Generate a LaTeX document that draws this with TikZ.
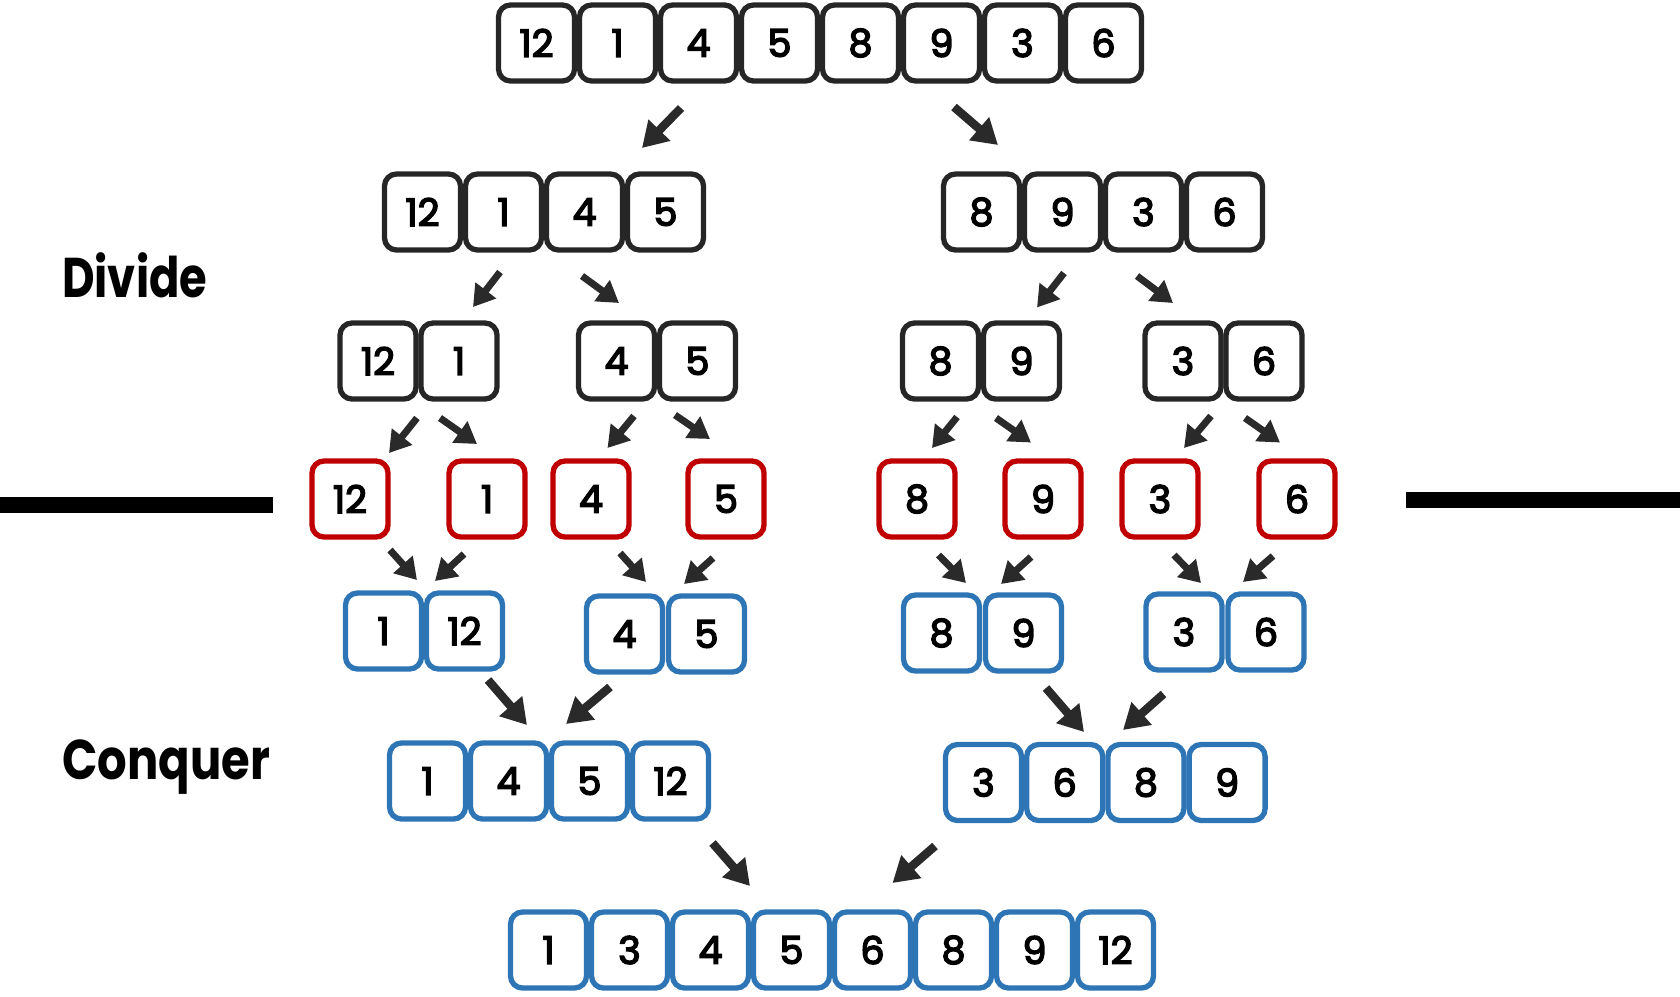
\documentclass[tikz,border=0pt]{standalone}
\usepackage{fontspec}
\setmainfont{Poppins}
\newfontfamily\digitfont{Poppins}[FakeBold=4]
\usetikzlibrary{arrows.meta}
\definecolor{boxblack}{HTML}{262626}
\definecolor{boxred}{HTML}{C00000}
\definecolor{boxblue}{HTML}{2E75B6}
\definecolor{arrowgray}{HTML}{2A2A2A}
\tikzset{
  cell/.style={draw, line width=5.3pt, rounded corners=12pt, minimum width=76pt,
    minimum height=76pt, inner sep=0pt, font=\digitfont\fontsize{38}{38}\selectfont},
  splitcell/.style={cell, draw=boxblack},
  leafcell/.style={cell, draw=boxred},
  mergecell/.style={cell, draw=boxblue},
  arr/.style={draw=arrowgray, fill=arrowgray, line width=7pt,
    -{Triangle[length=21pt,width=25pt]}},
  bigarr/.style={arr, line width=8.5pt, -{Triangle[length=25pt,width=29pt]}},
  phaselabel/.style={font=\bfseries\fontsize{56}{56}\selectfont, anchor=base west, inner sep=0pt},
  divider/.style={line width=16pt, black},
}
\begin{document}
\begin{tikzpicture}[x=1pt,y=-1pt]
\useasboundingbox (0,0) rectangle (1680,996);
% labels
\node[phaselabel] (divide) at (62,297) {\scalebox{0.8}[1]{Divide}};
\node[phaselabel] (conquer) at (62,779) {\scalebox{0.83}[1]{Conquer}};
% dividers
\coordinate (dl1) at (0,504.5); \coordinate (dl2) at (273,504.5);
\coordinate (dr1) at (1406,499.7); \coordinate (dr2) at (1680,499.7);
\draw[divider] (dl1) -- (dl2);
\draw[divider] (dr1) -- (dr2);
% row 1
\foreach \v [count=\i] in {12,1,4,5,8,9,3,6}
  \node[splitcell] (r1-\i) at ({536.5+81*(\i-1)},43) {\v};
% row 2
\foreach \v [count=\i] in {12,1,4,5}
  \node[splitcell] (r2a-\i) at ({422.5+81*(\i-1)},212) {\v};
\foreach \v [count=\i] in {8,9,3,6}
  \node[splitcell] (r2b-\i) at ({981.5+81*(\i-1)},212) {\v};
% row 3
\foreach \v [count=\i] in {12,1}
  \node[splitcell] (r3a-\i) at ({378+81*(\i-1)},361) {\v};
\foreach \v [count=\i] in {4,5}
  \node[splitcell] (r3b-\i) at ({616.5+81*(\i-1)},361) {\v};
\foreach \v [count=\i] in {8,9}
  \node[splitcell] (r3c-\i) at ({940.5+81*(\i-1)},361) {\v};
\foreach \v [count=\i] in {3,6}
  \node[splitcell] (r3d-\i) at ({1183+81*(\i-1)},361) {\v};
% row 4 (single elements)
\foreach \v/\x [count=\i] in {12/350,1/487,4/591,5/726,8/917,9/1043,3/1160,6/1297}
  \node[leafcell] (r4-\i) at (\x,499) {\v};
% row 5
\foreach \v [count=\i] in {1,12}
  \node[mergecell] (r5a-\i) at ({383.5+81*(\i-1)},631) {\v};
\foreach \v [count=\i] in {4,5}
  \node[mergecell] (r5b-\i) at ({624.5+82*(\i-1)},634) {\v};
\foreach \v [count=\i] in {8,9}
  \node[mergecell] (r5c-\i) at ({941.5+82*(\i-1)},633) {\v};
\foreach \v [count=\i] in {3,6}
  \node[mergecell] (r5d-\i) at ({1184+82*(\i-1)},632) {\v};
% row 6
\foreach \v [count=\i] in {1,4,5,12}
  \node[mergecell] (r6a-\i) at ({427.5+81*(\i-1)},781) {\v};
\foreach \v [count=\i] in {3,6,8,9}
  \node[mergecell] (r6b-\i) at ({983.5+81.2*(\i-1)},782.5) {\v};
% row 7
\foreach \v [count=\i] in {1,3,4,5,6,8,9,12}
  \node[mergecell] (r7-\i) at ({548.5+81*(\i-1)},950) {\v};
% arrow end points
\foreach \n/\sx/\sy/\ex/\ey in {
  a1/681/108/642/148, a2/954/107/998/145,
  b1/500/272/473/307, b2/582/276/619/303, b3/1064/273/1037/307.5, b4/1137/276/1173/303,
  c1/417/418/389/453, c2/440/418/477/444, c3/634/416/607.5/448, c4/675/415/710/439,
  c5/957/417/932/448, c6/996/418/1031/442.5, c7/1211/416/1184/448, c8/1245/418/1280/442.5,
  d1/390/550/417/580, d2/464/554/435/581, d3/620/553/646/582, d4/713/558/684/584,
  d5/938.5/555/966/583, d6/1031/557/1001/584, d7/1174/555/1201/583, d8/1273/556/1243/582,
  e1/488/680/527/725, e2/610/687/566/724, e3/1046/688/1084/732, e4/1163.5/694/1123/730,
  f1/712.5/843/750/886, f2/935/846/892.5/883}
{
  \coordinate (\n s) at (\sx,\sy);
  \coordinate (\n e) at (\ex,\ey);
}
\foreach \n in {a1,a2,e1,e2,e3,e4,f1,f2}
  \draw[bigarr] (\n s) -- (\n e);
\foreach \n in {b1,b2,b3,b4,c1,c2,c3,c4,c5,c6,c7,c8,d1,d2,d3,d4,d5,d6,d7,d8}
  \draw[arr] (\n s) -- (\n e);
\end{tikzpicture}
\end{document}
